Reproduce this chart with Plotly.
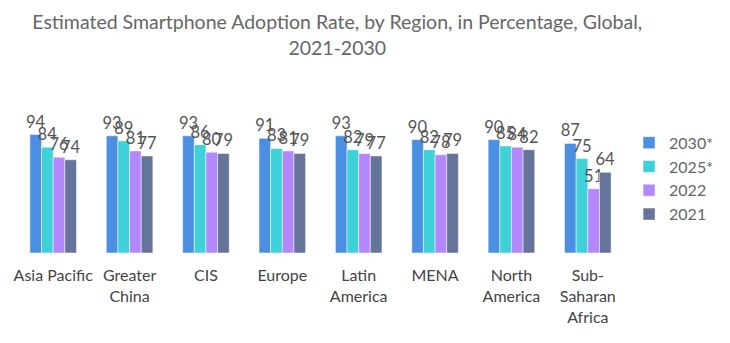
import plotly.graph_objects as go

regions = ["Asia Pacific", "Greater<br>China", "CIS", "Europe", "Latin<br>America",
           "MENA", "North<br>America", "Sub-<br>Saharan<br>Africa"]
series_names = ["2030*", "2025*", "2022", "2021"]
v2030 = [94, 93, 93, 91, 93, 90, 90, 87]
v2025 = [84, 89, 86, 83, 82, 82, 85, 75]
v2022 = [76, 81, 80, 81, 79, 78, 84, 51]
v2021 = [74, 77, 79, 79, 77, 79, 82, 64]
colors = ["#4a8fe2", "#3fd1d8", "#b388ff", "#64749a"]

fig = go.Figure()
for name, vals, col in zip(series_names, [v2030, v2025, v2022, v2021], colors):
    fig.add_trace(go.Bar(
        x=regions, y=vals, name=name,
        marker=dict(color=col, line=dict(color="rgba(255,255,255,0.5)", width=1)),
        text=[str(v) for v in vals], textposition="outside",
        textfont=dict(size=16.5, color="#555555", family="Lato"),
        constraintext="none", cliponaxis=False,
    ))

fig.update_layout(
    width=730, height=343,
    margin=dict(l=15, r=95, t=127, b=90),
    paper_bgcolor="white", plot_bgcolor="white",
    barmode="group", bargap=0.39, bargroupgap=0,
    title=dict(text="Estimated Smartphone Adoption Rate, by Region, in Percentage, Global,<br>2021-2030",
               x=0.462, xanchor="center", y=0.915, yanchor="top",
               font=dict(family="Lato", size=19.5, color="#666666")),
    xaxis=dict(showgrid=False, showline=False, zeroline=False, ticks="",
               ticklabelstandoff=11,
               tickfont=dict(family="Lato", size=16, color="#444444")),
    yaxis=dict(range=[0, 100], visible=False),
    legend=dict(x=1.005, y=1.01, xanchor="left", yanchor="top",
                font=dict(family="Lato", size=16, color="#666666"),
                itemwidth=30, tracegroupgap=0),
    font=dict(family="Lato"),
)

fig.write_html("out.html")
